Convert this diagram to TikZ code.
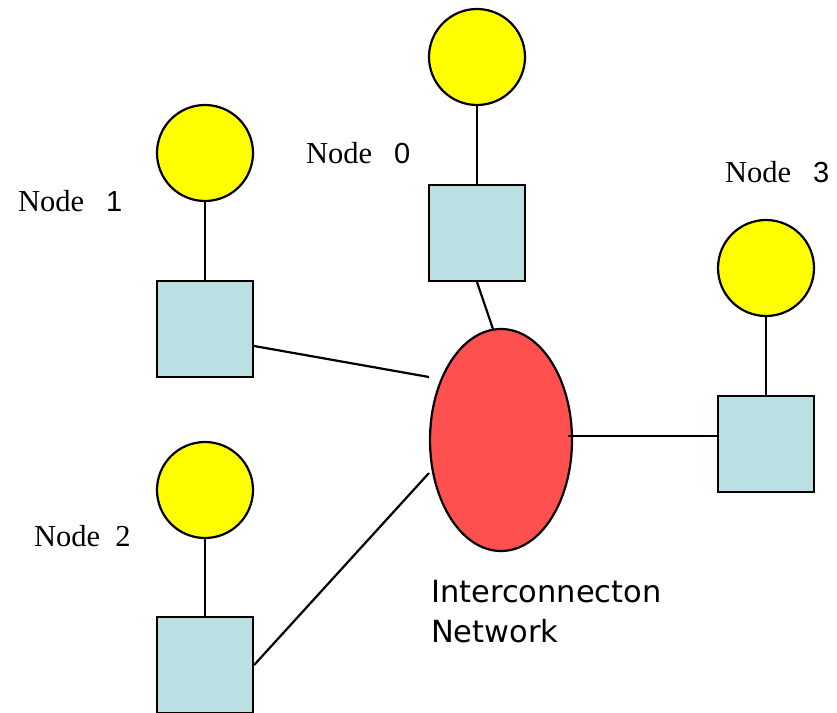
\documentclass[tikz,border=0pt]{standalone}
\usepackage{fontspec}
\setmainfont{Liberation Serif}
\setsansfont{Liberation Sans}
\newfontfamily\netfont{DejaVu Sans}
\usepackage{tikz}
\usetikzlibrary{shapes.geometric}

\definecolor{cpuyellow}{RGB}{255,255,0}
\definecolor{switchblue}{RGB}{187,224,227}
\definecolor{netred}{RGB}{255,80,80}

\begin{document}
\begin{tikzpicture}[x=1pt,y=-1pt,line width=2.2pt,
    proc/.style={circle,draw,fill=cpuyellow,minimum size=96pt,inner sep=0pt},
    sw/.style={rectangle,draw,fill=switchblue,minimum size=96pt,inner sep=0pt},
    lbl/.style={anchor=base west,inner sep=0pt,font=\fontsize{30.5}{36}\selectfont}]
    \useasboundingbox (0,0) rectangle (837,712);

    % processors and their switches
    \node (c0) at (477,57) [proc] {};
    \node (c1) at (205,153) [proc] {};
    \node (c2) at (205,490) [proc] {};
    \node (c3) at (766,268) [proc] {};
    \node (sw0) at (477,233) [sw] {};
    \node (sw1) at (205,329) [sw] {};
    \node (sw2) at (205,665) [sw] {};
    \node (sw3) at (766,444) [sw] {};

    % the network in the middle
    \node (net) at (501,440) [ellipse,draw,fill=netred,minimum width=142pt,minimum height=222pt] {};
    \coordinate (n0) at (493,329);
    \coordinate (n1) at (429,377);
    \coordinate (n2) at (429,473);
    \coordinate (n3) at (568,436);

    \foreach \i in {0,...,3}
        \draw (c\i) -- (sw\i);
    \draw (sw0.south) -- (n0);
    \draw ([yshift=-17pt]sw1.east) -- (n1);
    \draw (sw2.east) -- (n2);
    \draw (n3) -- (n3 -| sw3.west);

    % labels
    \node (l0) at (305,163) [lbl] {Node\hspace{0.72em}{\fontsize{29}{32}\selectfont\sffamily 0}};
    \node (l1) at (17,211) [lbl] {Node\hspace{0.72em}{\fontsize{29}{32}\selectfont\sffamily 1}};
    \node (l2) at (33,546) [lbl] {Node\hspace{0.5em}2};
    \node (l3) at (724,182) [lbl] {Node\hspace{0.72em}{\fontsize{29}{32}\selectfont\sffamily 3}};
    \node (netlbl) at (430,642) [anchor=base west,inner sep=0pt,align=left,
        font=\netfont\fontsize{30.5}{40}\selectfont] {Interconnecton\\Network};
\end{tikzpicture}
\end{document}
